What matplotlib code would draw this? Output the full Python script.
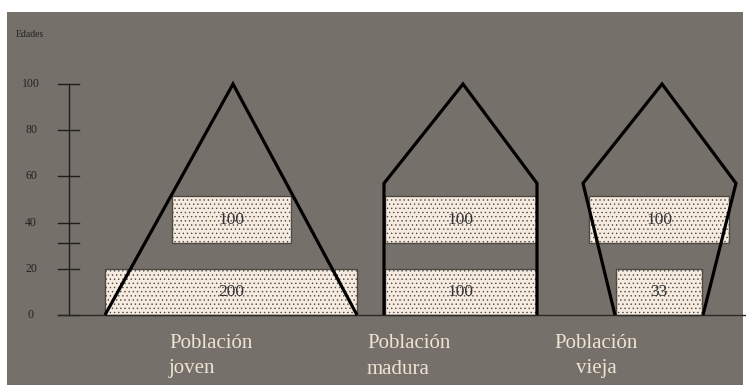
import matplotlib
matplotlib.use("Agg")
import matplotlib.pyplot as plt
from matplotlib.patches import Rectangle

# ---------------- data ----------------
groups = ["Población\njoven", "Población\nmadura", "Población\nvieja"]
group_align = ["left", "left", "center"]
group_centers = [231, 460, 659]

# age bands for the two bars of each group (years)
band_low = [0, 31]
band_high = [20, 51.5]

# bar labels (population) and widths per group: [lower band, upper band]
bar_values = [[200, 100], [100, 100], [33, 100]]
bar_widths = [[252, 119], [151, 151], [86, 140]]

# pyramid silhouettes: x positions and ages
sil_x = [[105, 233, 357],
         [384, 384, 463, 537, 537],
         [615, 583, 662, 736, 703]]
sil_age = [[0, 100, 0],
           [0, 57, 100, 57, 0],
           [0, 57, 100, 57, 0]]

age_ticks = [0, 20, 31, 40, 60, 80, 100]
age_tick_labels = ["0", "20", "", "40", "60", "80", "100"]
axis_title = "Edades"

# ---------------- style ----------------
W, H = 746, 385
bg = "#75716a"
bar_fill = "#f7ebe0"
bar_edge = "#4d4943"
label_col = "#efe3d3"
plt.rcParams["hatch.linewidth"] = 0.5
plt.rcParams["hatch.color"] = "#b5aca2"

fig = plt.figure(figsize=(W / 100, H / 100), dpi=100, facecolor="white")
ax = fig.add_axes([0, 0, 1, 1])
ax.set_facecolor("none")
# grey panel (white margin at left/top/right as in reference)
ax.add_patch(Rectangle((7 / W, 0), (743 - 7) / W, (H - 12) / H,
                       transform=ax.transAxes, facecolor=bg,
                       edgecolor="none", zorder=0))
px = 2.31  # pixels per year
ax.set_xlim(0, W)
ax.set_ylim(-(H - 315) / px, 315 / px)
ax.axis("off")

serif = ["Liberation Serif", "DejaVu Serif"]

# age axis
ax.plot([69, 69], [0, 100], color="#1e1e1e", lw=1.0, zorder=3)
for t, lab in zip(age_ticks, age_tick_labels):
    ax.plot([58, 79], [t, t], color="#1e1e1e", lw=1.0, zorder=3)
    if lab:
        ax.text(31, t, lab, ha="center", va="center", fontsize=8.5,
                family=serif, color="#222222")
ax.text(16, (315 - 34) / px, axis_title, ha="left", va="center",
        fontsize=7, family=serif, color="#222222")

# ground line
ax.plot([58, W], [0, 0], color="#2a2825", lw=1.0, zorder=3)

# bars
for c, vals, widths in zip(group_centers, bar_values, bar_widths):
    for lo, hi, v, w in zip(band_low, band_high, vals, widths):
        ax.bar(c, hi - lo, width=w, bottom=lo, color=bar_fill,
               edgecolor=bar_edge, linewidth=1.0, hatch="....", zorder=2)
        ax.text(c, (lo + hi) / 2, str(v), ha="center", va="center",
                fontsize=12.5, family=serif, color="#333333", zorder=5)

# silhouettes
for xs, ys in zip(sil_x, sil_age):
    ax.plot(xs, ys, color="black", lw=2.3, solid_joinstyle="miter",
            solid_capstyle="butt", zorder=4)

# group labels
ly = -(356 - 315) / px
for c, name, al in zip(group_centers, groups, group_align):
    if al == "left":
        x = c - 62 if c < 300 else c - 93
        ax.text(x, ly, name, ha="left", va="center",
                multialignment="left", fontsize=15, family=serif,
                color=label_col, linespacing=1.5)
    else:
        ax.text(c - 63, ly, name, ha="center", va="center",
                multialignment="center", fontsize=15, family=serif,
                color=label_col, linespacing=1.5)

fig.savefig("out.png", dpi=100, facecolor="white")
